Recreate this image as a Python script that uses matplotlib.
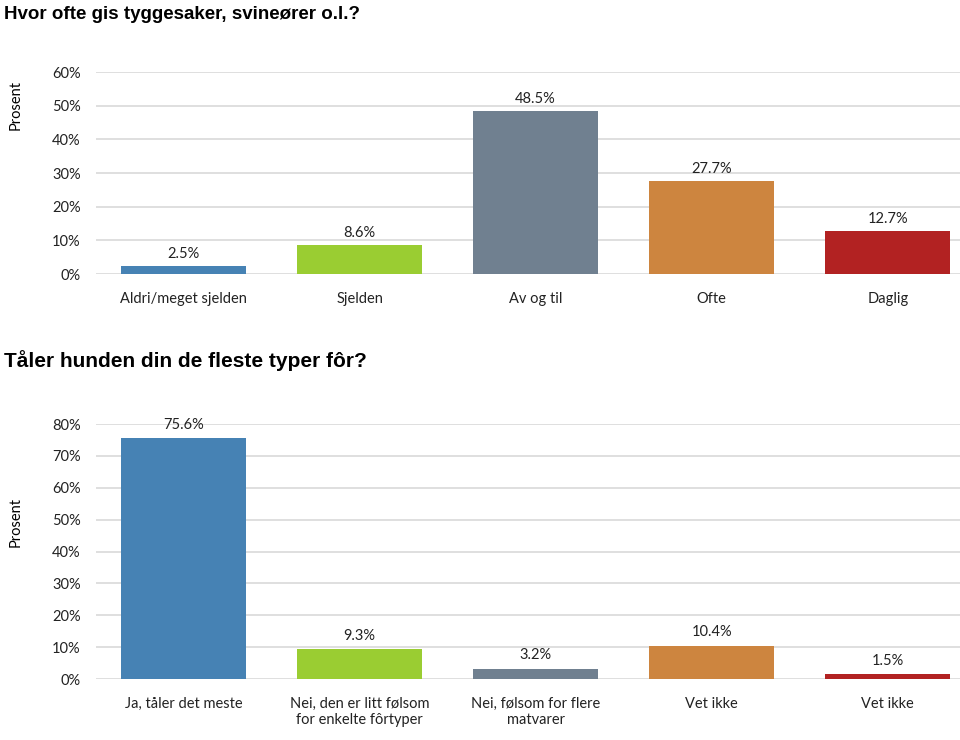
import numpy as np
import matplotlib
matplotlib.use("Agg")
import matplotlib.pyplot as plt

# data
cats_top = ["Aldri/meget sjelden", "Sjelden", "Av og til", "Ofte", "Daglig"]
vals_top = [2.5, 8.6, 48.5, 27.7, 12.7]

cats_bot = ["Ja, tåler det meste", "Nei, den er litt følsom\nfor enkelte fôrtyper",
            "Nei, følsom for flere\nmatvarer", "Vet ikke", "Vet ikke"]
vals_bot = [75.6, 9.3, 3.2, 10.4, 1.5]

bar_colors = ["#4682b4", "#9acd32", "#708090", "#cd853f", "#b22222"]

title_top = "Hvor ofte gis tyggesaker, svineører o.l.?"
title_bot = "Tåler hunden din de fleste typer fôr?"

plt.rcParams['font.family'] = ['Lato', 'DejaVu Sans']
fs = 10.5
grid_color = "#d9d9d9"


def draw(ax, cats, vals, ymax, label_y):
    x = np.arange(len(cats))
    ax.bar(x, vals, width=0.71, color=bar_colors, zorder=3)
    for xi, v in zip(x, vals):
        ax.text(xi, v + ymax * 0.025, '{:.1f}%'.format(v), ha='center', va='bottom',
                fontsize=fs, color='#222222')
    ax.set_xlim(-0.497, 4.41)
    ax.set_ylim(0, ymax)
    ticks = np.arange(0, ymax + 1, 10)
    ax.set_yticks(ticks)
    ax.set_yticklabels(['{:d}%'.format(int(t)) for t in ticks], fontsize=fs)
    ax.set_xticks(x)
    ax.set_xticklabels(cats, fontsize=fs)
    ax.yaxis.grid(True, color=grid_color, linewidth=1.2, zorder=0)
    for s in ['top', 'right', 'left', 'bottom']:
        ax.spines[s].set_visible(False)
    ax.tick_params(axis='y', length=0, pad=11, colors='#222222')
    ax.tick_params(axis='x', length=0, pad=13, colors='#222222')
    ax.set_ylabel("Prosent", fontsize=fs)
    ax.yaxis.set_label_coords(-0.085, label_y)


fig = plt.figure(figsize=(9.6, 7.4), dpi=100)

ax1 = fig.add_axes([0.1, 0.6297, 0.9, 0.2730])
draw(ax1, cats_top, vals_top, 60, 0.837)

ax2 = fig.add_axes([0.1, 0.0824, 0.9, 0.3446])
draw(ax2, cats_bot, vals_bot, 80, 0.616)

fig.text(0.004, 0.981, title_top, fontsize=13.5, fontweight='bold',
         family='Liberation Sans', va='center', ha='left')
fig.text(0.004, 0.513, title_bot, fontsize=15, fontweight='bold',
         family='Liberation Sans', va='center', ha='left')

fig.savefig('out.png', dpi=100)
